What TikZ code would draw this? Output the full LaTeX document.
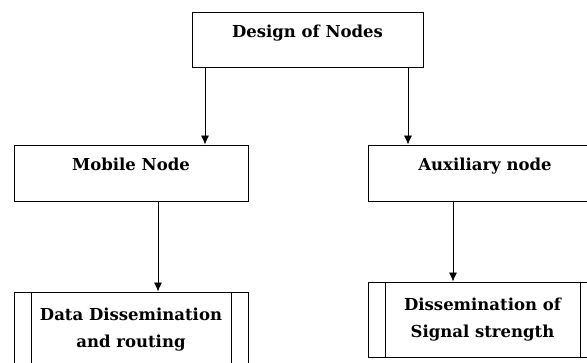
\documentclass[tikz,border=0pt]{standalone}
\usepackage{fontspec}
\setmainfont{DejaVu Serif}
\usepackage{tikz}
\usetikzlibrary{arrows.meta}
\tikzset{>={Latex[length=9pt,width=8pt]}}
\tikzset{
  box/.style={draw, line width=0.9pt, rectangle, font=\bfseries\fontsize{16.5}{20}\selectfont,
    text height=12pt, text depth=16pt, minimum height=56pt},
  process/.style={draw, line width=0.9pt, rectangle, align=center,
    font=\bfseries\fontsize{16.5}{27}\selectfont, minimum height=75pt,
    path picture={
      \draw[line width=0.9pt] ([xshift=17pt]path picture bounding box.north west) -- ([xshift=17pt]path picture bounding box.south west);
      \draw[line width=0.9pt] ([xshift=-17pt]path picture bounding box.north east) -- ([xshift=-17pt]path picture bounding box.south east);
    }},
}
\begin{document}
\begin{tikzpicture}[x=1pt, y=1pt]
            \useasboundingbox (0,0) rectangle (587,362);
            \node[box, minimum width=231pt, minimum height=55pt] (design) at (307.5, 322.5) {Design of Nodes};
            \node[box, minimum width=234pt] (mobile) at (131, 189) {Mobile Node};
            \node[box, minimum width=234pt] (auxiliary) at (485, 189) {Auxiliary node};
            \node[process, minimum width=234pt] (data) at (131, 32.5) {Data Dissemination\\ and routing};
            \node[process, minimum width=229pt] (signal) at (482.5, 42.5) {Dissemination of\\ Signal strength};
            % start points of the connectors
            \coordinate (designL) at ([xshift=-102.5pt]design.south);
            \coordinate (designR) at ([xshift=100.5pt]design.south);
            \coordinate (mobileS) at ([xshift=27pt]mobile.south);
            \coordinate (auxiliaryS) at ([xshift=-32pt]auxiliary.south);
            \draw[->, line width=0.8pt] (designL) -- (designL |- mobile.north);
            \draw[->, line width=0.8pt] (designR) -- (designR |- auxiliary.north);
            \draw[->, line width=0.8pt] (mobileS) -- (mobileS |- data.north);
            \draw[->, line width=0.8pt] (auxiliaryS) -- (auxiliaryS |- signal.north);
        \end{tikzpicture}
\end{document}
